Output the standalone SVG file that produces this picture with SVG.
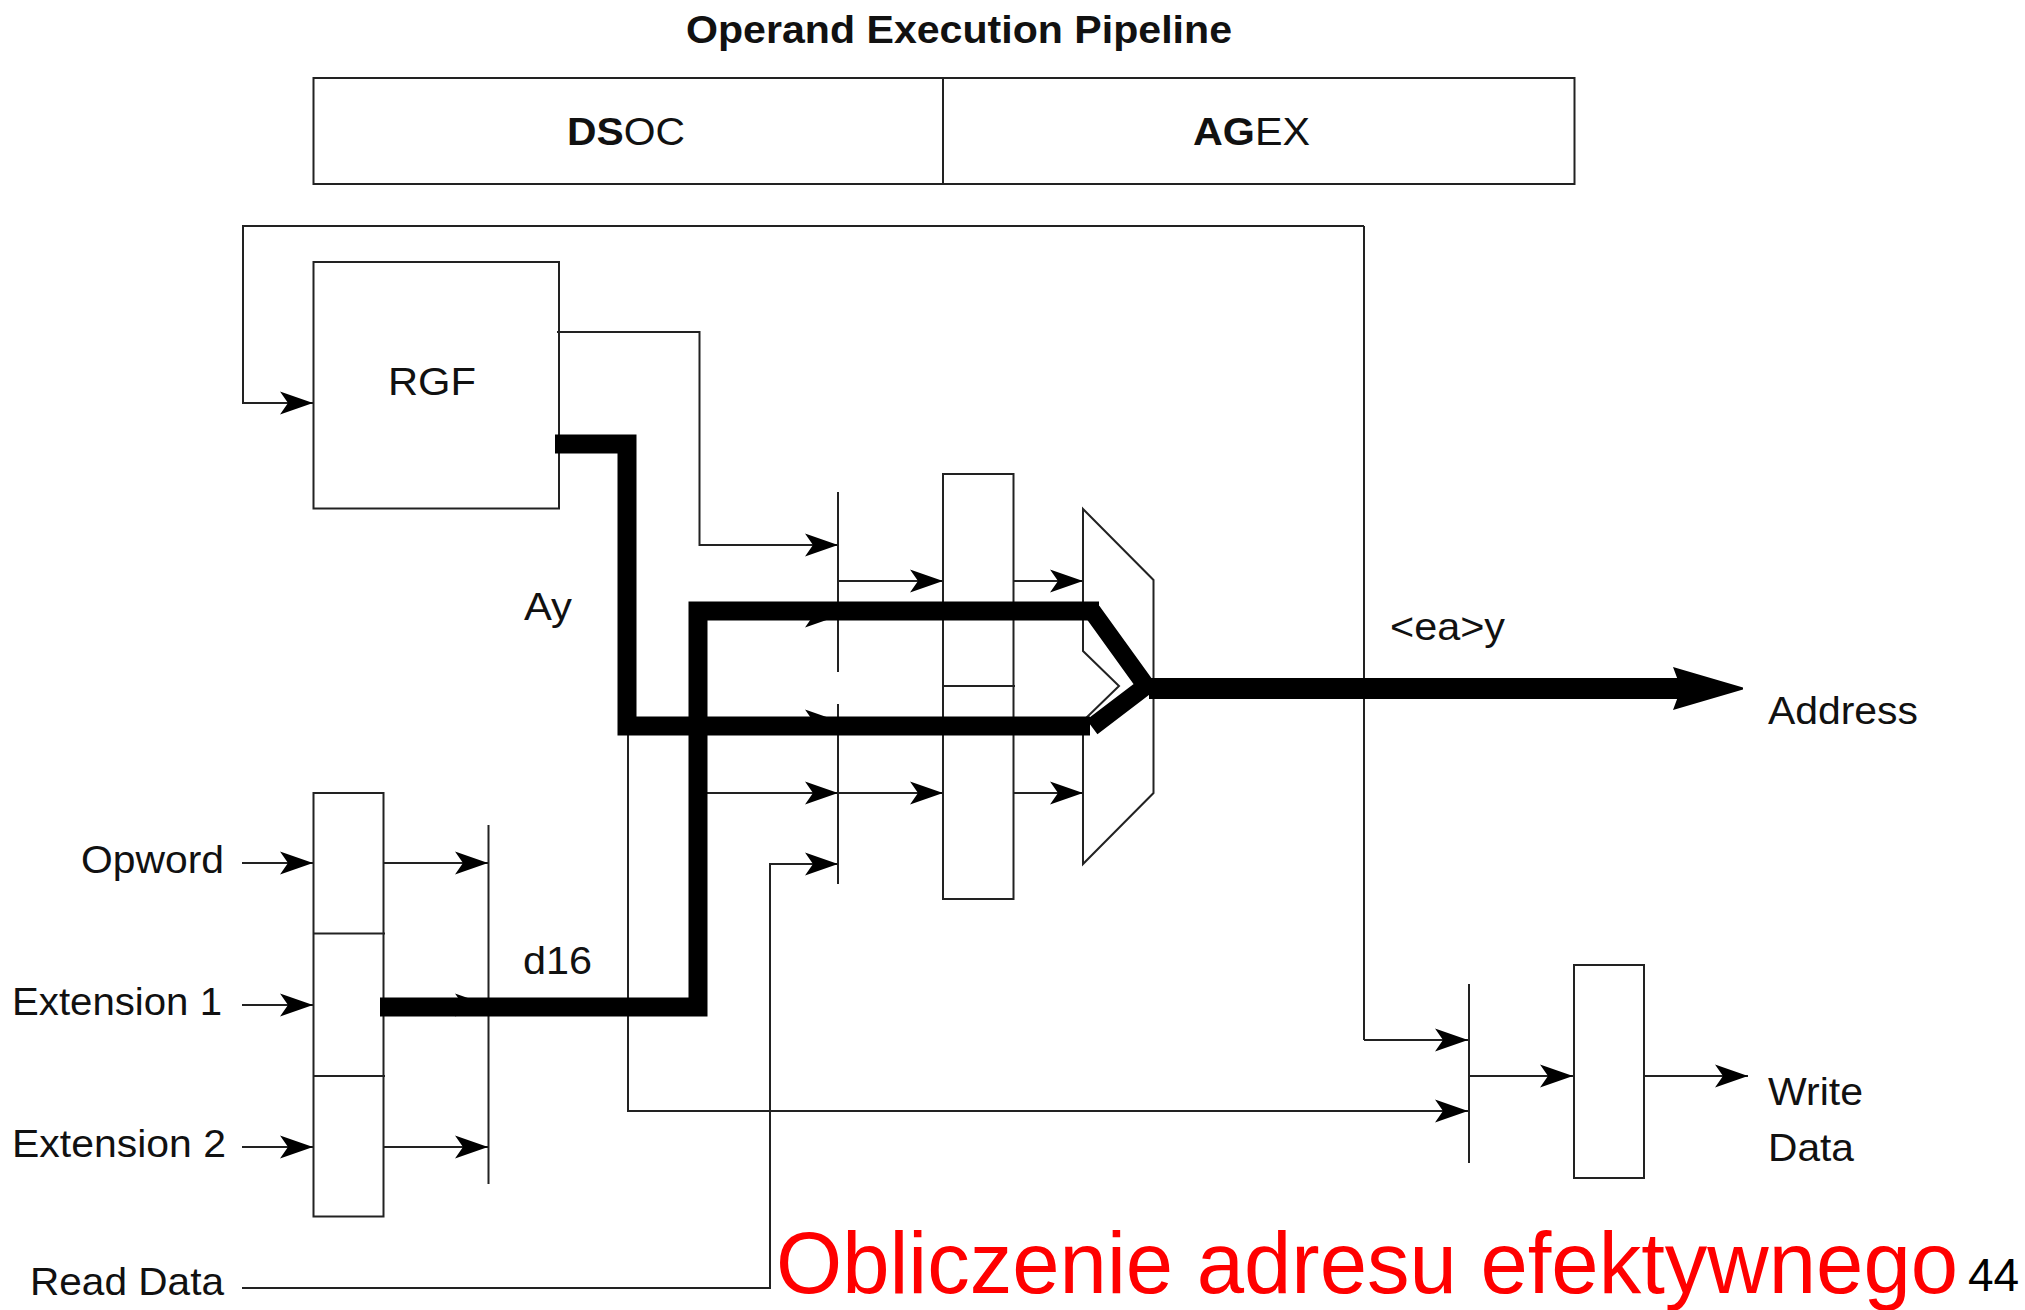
<svg xmlns="http://www.w3.org/2000/svg" width="2025" height="1310" viewBox="0 0 2025 1310">
<style>
text{font-family:"Liberation Sans",Arial,sans-serif;fill:#111;font-size:39px}
.b{font-weight:bold}
.l{fill:none;stroke:#222;stroke-width:2}
.a{fill:none;stroke:#222;stroke-width:2;marker-end:url(#ah)}
.t{fill:none;stroke:#000;stroke-width:19}
</style>
<defs>
<marker id="ah" markerUnits="userSpaceOnUse" markerWidth="40" markerHeight="30" refX="34" refY="12" orient="auto" overflow="visible"><path d="M34,12 L1,0.5 L9,12 L1,23.5 Z" fill="#000"/></marker>
</defs>
<rect width="2025" height="1310" fill="#fff"/>
<text id="title" class="b" x="686" y="43" textLength="546" lengthAdjust="spacingAndGlyphs">Operand Execution Pipeline</text>
<g id="header">
<rect class="l" x="313.5" y="78" width="1261" height="106"/>
<path class="l" d="M943 78V184"/>
<text x="567" y="145" textLength="118" lengthAdjust="spacingAndGlyphs"><tspan class="b">DS</tspan>OC</text>
<text x="1193" y="145" textLength="117" lengthAdjust="spacingAndGlyphs"><tspan class="b">AG</tspan>EX</text>
</g>
<g id="rgf"><rect class="l" x="313.5" y="262" width="245.5" height="246.5"/><text x="388" y="395" textLength="88" lengthAdjust="spacingAndGlyphs">RGF</text></g>
<g id="input-register"><rect class="l" x="313.5" y="793" width="70" height="423.5"/><path class="l" d="M313.5 933.5H385M313.5 1076H385"/></g>
<g id="latch-1"><path class="l" d="M488.5 825V1184"/></g>
<g id="latch-2"><path class="l" d="M838 492V672M838 704V884"/></g>
<g id="register-2"><rect class="l" x="943" y="474" width="70.5" height="425"/><path class="l" d="M943 686H1015"/></g>
<g id="mux"><path class="l" d="M1083 509L1153.5 580V793L1083 864V721L1119 686L1083 651Z"/></g>
<g id="latch-3"><path class="l" d="M1469 984V1163"/></g>
<g id="register-3"><rect class="l" x="1574" y="965" width="70" height="213"/></g>
<g id="connectors">
<path class="a" d="M1364 226H243V403H313"/>
<path class="l" d="M1364 226V1040"/>
<path class="a" d="M1364 1040H1468"/>
<path class="a" d="M557 332H699.5V545H838"/>
<path class="a" d="M838 581H943"/><path class="a" d="M1013 581H1083"/>
<path class="a" d="M804 616H838"/><path class="a" d="M804 721H838"/>
<path class="a" d="M705 793H838"/><path class="a" d="M838 793H943"/><path class="a" d="M1013 793H1083"/>
<path class="a" d="M242 1288H770V864H838"/>
<path class="a" d="M242 863H313"/><path class="a" d="M242 1005H313"/><path class="a" d="M242 1147H313"/>
<path class="a" d="M384 863H488"/><path class="a" d="M384 1005H488"/><path class="a" d="M384 1147H488"/>
<path class="a" d="M628 726V1111H1468"/>
<path class="a" d="M1469 1076H1573"/><path class="a" d="M1644 1076H1748"/>
<path class="t" d="M555 444H627V726H1090"/>
<path class="t" d="M380 1007H698V611H1099"/>
<path class="t" style="stroke-width:18" d="M1092 611L1146 686L1092 727"/>
<path class="t" style="stroke-width:21" d="M1149 688.500H1690"/>
<path d="M1673 667L1743 687.500V689.500L1673 710L1681 688.500Z" fill="#000"/>
</g>
<g id="labels">
<text x="524" y="620" textLength="48" lengthAdjust="spacingAndGlyphs">Ay</text>
<text x="523" y="974" textLength="69" lengthAdjust="spacingAndGlyphs">d16</text>
<text x="1390" y="640" textLength="115" lengthAdjust="spacingAndGlyphs">&lt;ea&gt;y</text>
<text x="1768" y="724" textLength="150" lengthAdjust="spacingAndGlyphs">Address</text>
<text x="81" y="873" textLength="143" lengthAdjust="spacingAndGlyphs">Opword</text>
<text x="12" y="1015" textLength="210" lengthAdjust="spacingAndGlyphs">Extension 1</text>
<text x="12" y="1157" textLength="214" lengthAdjust="spacingAndGlyphs">Extension 2</text>
<text x="30" y="1295" textLength="194" lengthAdjust="spacingAndGlyphs">Read Data</text>
<text x="1768" y="1105" textLength="95" lengthAdjust="spacingAndGlyphs">Write</text>
<text x="1768" y="1161" textLength="86" lengthAdjust="spacingAndGlyphs">Data</text>
<text x="776" y="1293" style="font-size:87px;fill:#f00" textLength="1182" lengthAdjust="spacingAndGlyphs">Obliczenie adresu efektywnego</text>
<text x="1968" y="1291" style="font-size:46px;fill:#000">44</text>
</g>
</svg>
